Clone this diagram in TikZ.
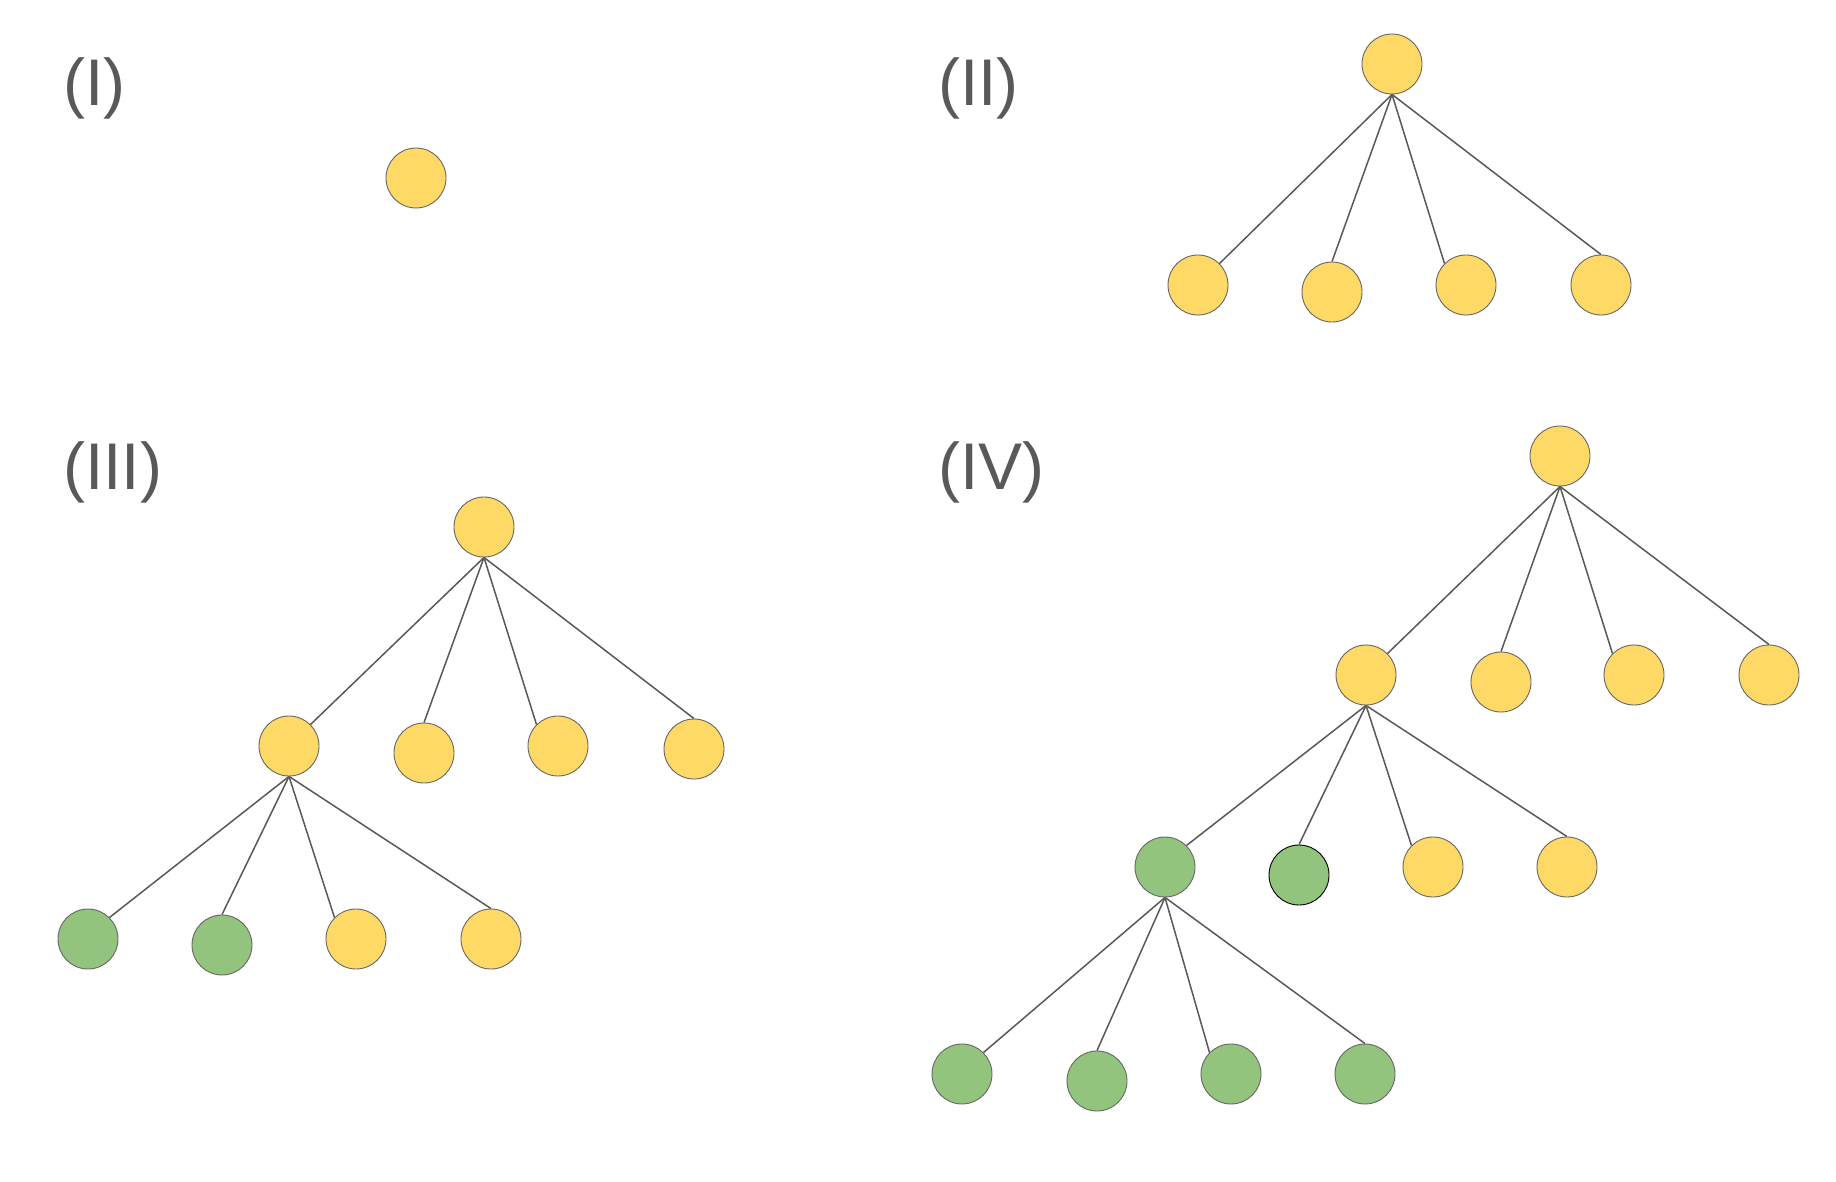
\documentclass[tikz,border=0pt]{standalone}
\usepackage{fontspec}
\setmainfont{Liberation Sans}
\definecolor{ygold}{HTML}{FFD966}
\definecolor{ggreen}{HTML}{93C47D}
\definecolor{dgrey}{HTML}{595959}
\definecolor{ogrey}{HTML}{666666}
\begin{document}
\begin{tikzpicture}[x=1pt,y=-1pt,
  nd/.style={circle,minimum size=60pt,inner sep=0pt,draw=ogrey,line width=0.9pt},
  yl/.style={nd,fill=ygold},
  gr/.style={nd,fill=ggreen},
  lbl/.style={anchor=base west,inner sep=0pt,text=dgrey,font=\fontsize{66}{70}\selectfont},
  edge/.style={draw=dgrey,line width=1.5pt}]
\useasboundingbox[fill=white] (0,0) rectangle (1836,1182);
% labels
\node[lbl] (L1) at (63,106) {(I)};
\node[lbl] (L2) at (938,106) {(II)};
\node[lbl] (L3) at (63,489) {(III)};
\node[lbl] (L4) at (938,489) {(IV)};
% (I)
\node[yl] (A) at (416,178) {};
% (II)
\node[yl] (Br) at (1392,64) {};
\node[yl] (Ba) at (1198,285) {};
\node[yl] (Bb) at (1332,292) {};
\node[yl] (Bc) at (1466,285) {};
\node[yl] (Bd) at (1601,285) {};
\draw[edge] (Br.south) -- (Ba.north east);
\draw[edge] (Br.south) -- (Bb.north);
\draw[edge] (Br.south) -- (Bc.north west);
\draw[edge] (Br.south) -- (Bd.north);
% (III)
\node[yl] (Cr) at (484,527) {};
\node[yl] (Cm1) at (289,746) {};
\node[yl] (Cm2) at (424,753) {};
\node[yl] (Cm3) at (558,746) {};
\node[yl] (Cm4) at (694,749) {};
\node[gr] (Cl1) at (88,939) {};
\node[gr] (Cl2) at (222,945) {};
\node[yl] (Cl3) at (356,939) {};
\node[yl] (Cl4) at (491,939) {};
\draw[edge] (Cr.south) -- (Cm1.north east);
\draw[edge] (Cr.south) -- (Cm2.north);
\draw[edge] (Cr.south) -- (Cm3.north west);
\draw[edge] (Cr.south) -- (Cm4.north);
\draw[edge] (Cm1.south) -- (Cl1.north east);
\draw[edge] (Cm1.south) -- (Cl2.north);
\draw[edge] (Cm1.south) -- (Cl3.north west);
\draw[edge] (Cm1.south) -- (Cl4.north);
% (IV)
\node[yl] (Dr) at (1560,456) {};
\node[yl] (Dm1) at (1366,675) {};
\node[yl] (Dm2) at (1501,682) {};
\node[yl] (Dm3) at (1634,675) {};
\node[yl] (Dm4) at (1769,675) {};
\node[gr] (Dn1) at (1165,867) {};
\node[gr,draw=black] (Dn2) at (1299,875) {};
\node[yl] (Dn3) at (1433,867) {};
\node[yl] (Dn4) at (1567,867) {};
\node[gr] (Dk1) at (962,1074) {};
\node[gr] (Dk2) at (1097,1081) {};
\node[gr] (Dk3) at (1231,1074) {};
\node[gr] (Dk4) at (1365,1074) {};
\draw[edge] (Dr.south) -- (Dm1.north east);
\draw[edge] (Dr.south) -- (Dm2.north);
\draw[edge] (Dr.south) -- (Dm3.north west);
\draw[edge] (Dr.south) -- (Dm4.north);
\draw[edge] (Dm1.south) -- (Dn1.north east);
\draw[edge] (Dm1.south) -- (Dn2.north);
\draw[edge] (Dm1.south) -- (Dn3.north west);
\draw[edge] (Dm1.south) -- (Dn4.north);
\draw[edge] (Dn1.south) -- (Dk1.north east);
\draw[edge] (Dn1.south) -- (Dk2.north);
\draw[edge] (Dn1.south) -- (Dk3.north west);
\draw[edge] (Dn1.south) -- (Dk4.north);
\end{tikzpicture}
\end{document}
